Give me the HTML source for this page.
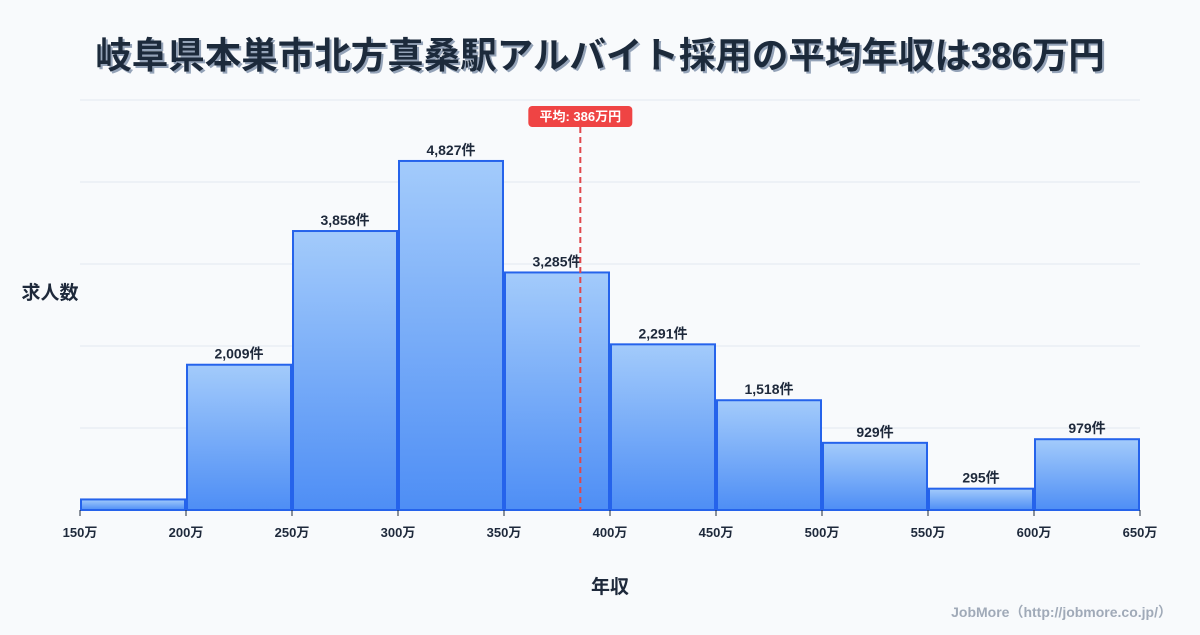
<!DOCTYPE html>
<html><head><meta charset="utf-8"><style>
body{margin:0;width:1200px;height:630px;background:#f8fafc;font-family:"Liberation Sans","Noto Sans CJK JP",sans-serif;overflow:hidden}
svg text{font-family:"Liberation Sans","Noto Sans CJK JP",sans-serif}
</style></head><body>
<svg id="chart" width="1200" height="630">
<defs><linearGradient id="g" x1="0" y1="0" x2="0" y2="1"><stop offset="0" stop-color="#a3cbfb"/><stop offset="1" stop-color="#4e8ef5"/></linearGradient>
<filter id="sh"><feDropShadow dx="2" dy="2" stdDeviation="0" flood-color="#94a3b8"/></filter></defs>
<text x="600" y="68" text-anchor="middle" font-size="36.5" font-weight="bold" fill="#1e293b" filter="url(#sh)">岐阜県本巣市北方真桑駅アルバイト採用の平均年収は386万円</text>
<g id="grid"></g><g id="bars"></g><g id="xaxis"></g>
<text x="50" y="299" text-anchor="middle" font-size="19" font-weight="bold" fill="#1e293b">求人数</text>
<text x="610" y="593" text-anchor="middle" font-size="19" font-weight="bold" fill="#1e293b">年収</text>
<text x="1172" y="617" text-anchor="end" font-size="14" font-weight="bold" fill="#a0aab8">JobMore（http://jobmore.co.jp/）</text>
<g id="mean"></g>
</svg>
<script>
const binStarts=[150,200,250,300,350,400,450,500,550,600];
const counts=[146,2009,3858,4827,3285,2291,1518,929,295,979];
const labels=[null,"2,009件","3,858件","4,827件","3,285件","2,291件","1,518件","929件","295件","979件"];
const ticks=[150,200,250,300,350,400,450,500,550,600,650];
const meanVal=386;
const NS="http://www.w3.org/2000/svg";
const x=v=>80+(v-150)*2.12;
const yMax=5670;
const y=v=>510-v/yMax*410;
function mk(t,a,p){const e=document.createElementNS(NS,t);for(const k in a)e.setAttribute(k,a[k]);p.appendChild(e);return e;}
const grid=document.getElementById('grid');
for(let i=0;i<=5;i++){const gy=510-i*82;const l=mk('line',{x1:80,x2:1140,y1:gy,y2:gy,stroke:'#e2e8f0','stroke-width':1},grid);

}
const bars=document.getElementById('bars');
binStarts.forEach((b,i)=>{const x0=x(b)+1,x1=x(b+50)-1,yt=y(counts[i]);
const r=mk('rect',{x:x0,y:yt,width:x1-x0,height:510-yt,fill:'url(#g)',stroke:'#2563eb','stroke-width':2},bars);


if(labels[i]){const t=mk('text',{x:(x0+x1)/2,y:yt-6,'text-anchor':'middle','font-size':14,'font-weight':'bold',fill:'#1e293b'},bars);t.textContent=labels[i];

}});
const xa=document.getElementById('xaxis');
ticks.forEach(v=>{const l=mk('line',{x1:x(v),x2:x(v),y1:510,y2:516,stroke:'#1e293b','stroke-width':1},xa);


const t=mk('text',{x:x(v),y:537,'text-anchor':'middle','font-size':13,'font-weight':'bold',fill:'#1e293b'},xa);t.textContent=v+'万';

});
const m=document.getElementById('mean');const mx=x(meanVal);
const ml=mk('line',{x1:mx,x2:mx,y1:127,y2:510,stroke:'#e0474c','stroke-width':2,'stroke-dasharray':'6,4'},m);


const mr=mk('rect',{x:mx-52,y:106,width:104,height:21,rx:4,fill:'#ef4444'},m);


const mt=mk('text',{x:mx,y:121,'text-anchor':'middle','font-size':13,'font-weight':'bold',fill:'#fff'},m);mt.textContent='平均: '+meanVal+'万円';


</script>
</body></html>
